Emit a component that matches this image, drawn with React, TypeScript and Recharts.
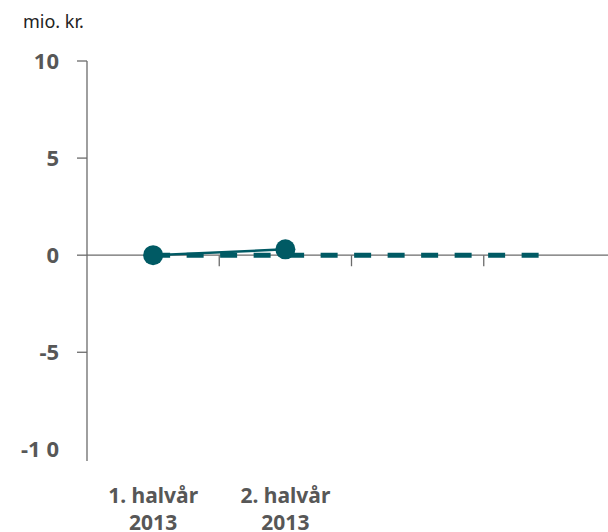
import { Line, LineChart, ReferenceLine, XAxis, YAxis } from "recharts";

// half-year categories; the last two slots are empty in the source chart
const categories = ["1. halvår 2013", "2. halvår 2013", "", ""];
const actual = [0, 0.3, null, null];
const budget = [0, 0, 0, 0];
const yTicks = [10, 5, 0, -5, -10];
const yTickLabels: Record<number, string> = { 10: "10", 5: "5", 0: "0", "-5": "-5", "-10": "-1 0" };

const TEAL = "#005a64";
const AXIS = "#6b6b6b";
const LABEL = "#575757";
const FONT = "'Noto Sans', sans-serif";

// each category sits in the middle of its slot; slot edges get the small tick marks
const data = categories.map((c, i) => ({ pos: i + 0.5, cat: c, actual: actual[i], budget: budget[i] }));
const centers = data.map((d) => d.pos);
const boundaries = categories.slice(1).map((_, i) => i + 1);

function YTick(props: any) {
  const { x, y, payload } = props;
  const v = payload.value as number;
  const axisX = x + 28;
  return (
    <g>
      {v !== -10 && <line x1={axisX - 10} x2={axisX} y1={y} y2={y} stroke={AXIS} strokeWidth={1.3} />}
      <text x={x} y={y} dy="0.36em" textAnchor="end" fill={LABEL} fontFamily={FONT} fontWeight={700} fontSize={22}>
        {yTickLabels[v]}
      </text>
    </g>
  );
}

function XTick(props: any) {
  const { x, y, payload } = props;
  const s = categories[Math.floor(payload.value)] || "";
  if (!s) return null;
  const cut = s.lastIndexOf(" ");
  return (
    <text x={x} y={y} textAnchor="middle" fill={LABEL} fontFamily={FONT} fontWeight={700} fontSize={21}>
      <tspan x={x} dy={42}>{s.slice(0, cut)}</tspan>
      <tspan x={x} dy={27}>{s.slice(cut + 1)}</tspan>
    </text>
  );
}

export default function App() {
  return (
    <div style={{ position: "absolute", left: 0, top: 0, width: 608, height: 532, overflow: "hidden", background: "#fff" }}>
      <div style={{ position: "absolute", left: 23, top: 9, fontFamily: FONT, fontSize: 18, color: "#222" }}>mio. kr.</div>
      <LineChart width={630} height={532} data={data} margin={{ top: 61, right: 14, left: 0, bottom: 0 }}>
        <XAxis
          dataKey="pos"
          type="number"
          domain={[0, categories.length]}
          allowDataOverflow
          ticks={centers}
          interval={0}
          height={71}
          axisLine={false}
          tickLine={false}
          tickSize={0}
          tickMargin={0}
          tick={<XTick />}
        />
        <YAxis
          width={87}
          domain={[-10.6, 10]}
          ticks={yTicks}
          interval={0}
          tickSize={10}
          tickMargin={18}
          tickLine={false}
          axisLine={{ stroke: AXIS, strokeWidth: 1.3 }}
          tick={<YTick />}
        />
        <ReferenceLine y={0} stroke={AXIS} strokeWidth={1.3} />
        {boundaries.map((b) => (
          <ReferenceLine
            key={b}
            segment={[{ x: b, y: 0 }, { x: b, y: -0.57 }]}
            stroke={AXIS}
            strokeWidth={1.3}
          />
        ))}
        <Line
          dataKey="budget"
          stroke={TEAL}
          strokeWidth={5}
          strokeDasharray="17 16.5"
          dot={false}
          isAnimationActive={false}
        />
        <Line
          dataKey="actual"
          stroke={TEAL}
          strokeWidth={2.5}
          dot={{ r: 10, fill: TEAL, stroke: TEAL, strokeWidth: 0 }}
          activeDot={false}
          connectNulls={false}
          isAnimationActive={false}
        />
      </LineChart>
    </div>
  );
}
